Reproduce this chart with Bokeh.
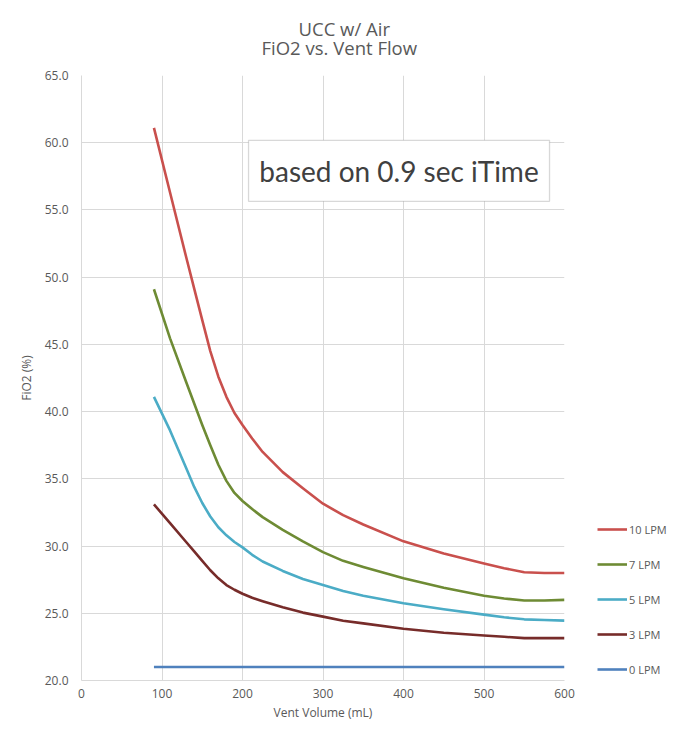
from bokeh.plotting import figure
from bokeh.models import Range1d, Legend, LegendItem, Label, BoxAnnotation, FixedTicker, NumeralTickFormatter, Title
from bokeh.embed import file_html
from bokeh.resources import INLINE

# ---- data ----
vent_volume = [90, 110, 130, 140, 150, 160, 170, 180, 190, 200, 212, 225, 250, 275, 300, 325, 350, 400, 450, 500, 525, 550, 575, 600]
lpm10 = [61.1, 56.3, 51.5, 49.15, 46.8, 44.5, 42.6, 41.1, 39.9, 39.0, 38.0, 37.0, 35.5, 34.3, 33.15, 32.3, 31.6, 30.35, 29.45, 28.7, 28.35, 28.05, 28.0, 28.0]
lpm7 = [49.1, 45.45, 42.2, 40.6, 39.0, 37.5, 36.05, 34.85, 33.95, 33.35, 32.75, 32.15, 31.2, 30.35, 29.55, 28.9, 28.45, 27.6, 26.9, 26.3, 26.1, 25.95, 25.95, 26.0]
lpm5 = [41.1, 38.6, 35.8, 34.4, 33.2, 32.2, 31.4, 30.8, 30.3, 29.9, 29.35, 28.85, 28.15, 27.55, 27.1, 26.65, 26.3, 25.75, 25.3, 24.9, 24.7, 24.55, 24.5, 24.45]
lpm3 = [33.1, 31.7, 30.3, 29.6, 28.9, 28.2, 27.6, 27.1, 26.75, 26.45, 26.15, 25.9, 25.45, 25.05, 24.75, 24.45, 24.25, 23.85, 23.55, 23.35, 23.25, 23.15, 23.15, 23.15]
lpm0 = [21.0, 21.0, 21.0, 21.0, 21.0, 21.0, 21.0, 21.0, 21.0, 21.0, 21.0, 21.0, 21.0, 21.0, 21.0, 21.0, 21.0, 21.0, 21.0, 21.0, 21.0, 21.0, 21.0, 21.0]

series_names = ["10 LPM", "7 LPM", "5 LPM", "3 LPM", "0 LPM"]
series_values = [lpm10, lpm7, lpm5, lpm3, lpm0]
series_colors = ["#C9504D", "#6E8B34", "#4BACC6", "#772C2A", "#4F81BD"]

x_ticks = [0, 100, 200, 300, 400, 500, 600]
y_ticks = [20, 25, 30, 35, 40, 45, 50, 55, 60, 65]

title_lines = ["UCC w/ Air", "FiO2 vs. Vent Flow"]
note_text = "based on 0.9 sec iTime"

TXT = "#595959"
GRID = "#D9D9D9"
FONT = "Open Sans"

p = figure(frame_width=483, frame_height=605, output_backend="svg", toolbar_location=None,
           x_range=Range1d(0, 600), y_range=Range1d(20, 65),
           min_border_left=81, min_border_right=113, min_border_top=75, min_border_bottom=52)
p.outline_line_color = None
p.background_fill_color = "white"
p.border_fill_color = "white"

# grids
p.xgrid.ticker = FixedTicker(ticks=x_ticks)
p.ygrid.ticker = FixedTicker(ticks=y_ticks)
for g in (p.xgrid, p.ygrid):
    g.grid_line_color = GRID
    g.grid_line_width = 1

# axes
p.xaxis.ticker = FixedTicker(ticks=x_ticks)
p.yaxis.ticker = FixedTicker(ticks=y_ticks)
p.yaxis.formatter = NumeralTickFormatter(format="0.0")
for ax in (p.xaxis[0], p.yaxis[0]):
    ax.axis_line_color = GRID
    ax.major_tick_line_color = None
    ax.minor_tick_line_color = None
    ax.major_tick_out = 0
    ax.major_tick_in = 0
    ax.minor_tick_out = 0
    ax.major_label_text_color = TXT
    ax.major_label_text_font = FONT
    ax.major_label_text_font_size = "12px"
    ax.axis_label_text_color = TXT
    ax.axis_label_text_font = FONT
    ax.axis_label_text_font_size = "12px"
    ax.axis_label_text_font_style = "normal"
p.xaxis.axis_label = "Vent Volume (mL)"
p.yaxis.axis_label = "FiO2 (%)"
p.xaxis.major_label_standoff = 8
p.xaxis.axis_label_standoff = 3
p.yaxis.major_label_standoff = 13
p.yaxis.axis_label_standoff = 7

# lines
items = []
for name, vals, col in zip(series_names, series_values, series_colors):
    r = p.line(vent_volume, vals, line_color=col, line_width=2.6, line_join="round")
    items.append(LegendItem(label=name, renderers=[r]))

legend = Legend(items=items, location=(33, 1), orientation="vertical",
                glyph_width=30, glyph_height=20, label_height=20, spacing=15,
                label_standoff=2, padding=0, margin=0,
                border_line_color=None, background_fill_alpha=0,
                label_text_font=FONT, label_text_font_size="11px", label_text_color=TXT)
p.add_layout(legend, "right")

# note box
box = BoxAnnotation(left=207.5, right=581.4, bottom=55.64, top=60.18,
                    fill_color="white", fill_alpha=1.0,
                    line_color="#7F7F7F", line_width=1.3)
p.add_layout(box)
p.add_layout(Label(x=394.4, y=57.9, text=note_text, text_align="center", text_baseline="middle",
                   text_font="Lato", text_font_size="28px", text_color="#404040"))

# title (two lines; subtitle added first so it sits nearest the plot)
p.add_layout(Title(text=title_lines[1], align="left", offset=180, standoff=31,
                   text_font=FONT, text_font_size="18.5px", text_font_style="normal",
                   text_color=TXT), "above")
p.add_layout(Title(text=title_lines[0], align="left", offset=217, standoff=-46,
                   text_font=FONT, text_font_size="18.5px", text_font_style="normal",
                   text_color=TXT), "above")

open("out.html", "w").write(file_html(p, INLINE))
